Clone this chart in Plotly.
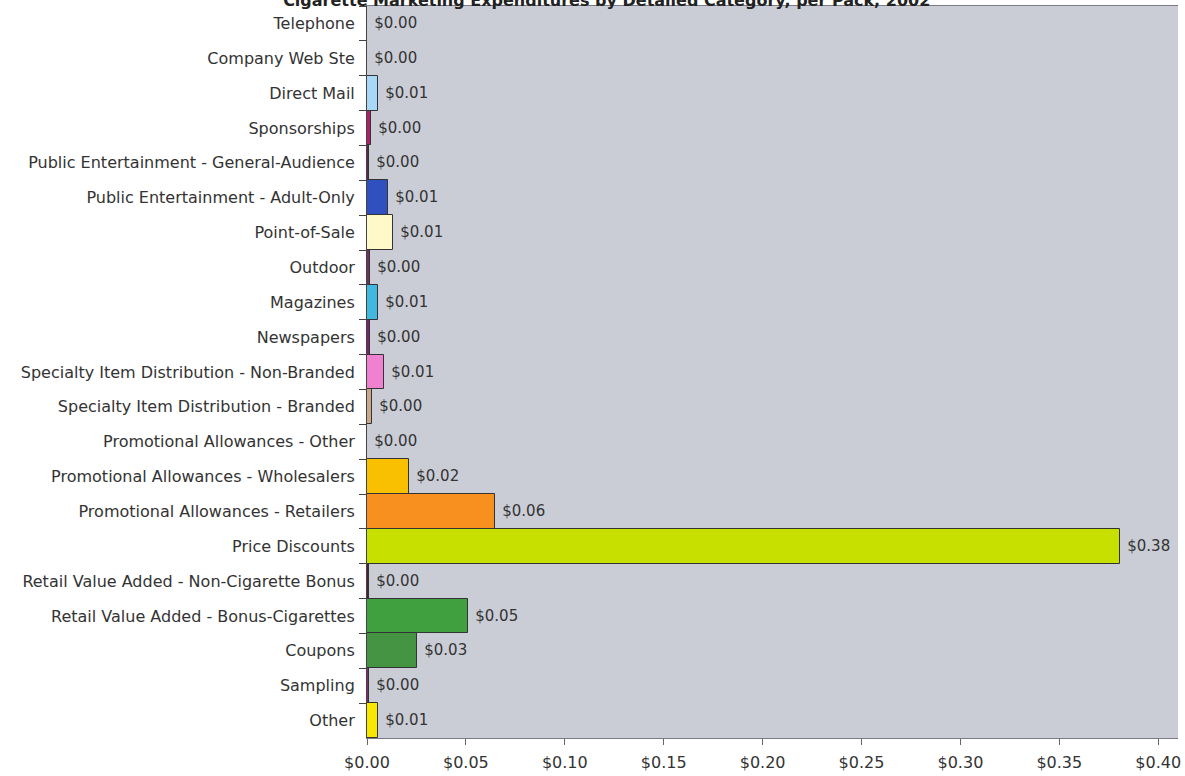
import plotly.graph_objects as go

categories = [
    "Telephone", "Company Web Ste", "Direct Mail", "Sponsorships",
    "Public Entertainment - General-Audience", "Public Entertainment - Adult-Only",
    "Point-of-Sale", "Outdoor", "Magazines", "Newspapers",
    "Specialty Item Distribution - Non-Branded", "Specialty Item Distribution - Branded",
    "Promotional Allowances - Other", "Promotional Allowances - Wholesalers",
    "Promotional Allowances - Retailers", "Price Discounts",
    "Retail Value Added - Non-Cigarette Bonus", "Retail Value Added - Bonus-Cigarettes",
    "Coupons", "Sampling", "Other",
]
values = [
    0.0, 0.0, 0.0058, 0.0022,
    0.0012, 0.0106,
    0.0132, 0.0015, 0.0055, 0.0015,
    0.0088, 0.0025,
    0.0, 0.0212,
    0.0646, 0.3805,
    0.0012, 0.0512,
    0.0252, 0.0012, 0.0055,
]
colors = [
    "#c8ccd4", "#c8ccd4", "#a8d8f8", "#b0206a",
    "#6a2050", "#3050c0",
    "#fff8c8", "#703060", "#40b8e0", "#802070",
    "#f080d0", "#c8a888",
    "#c8ccd4", "#f8c000",
    "#f89020", "#c8e000",
    "#502030", "#40a040",
    "#449444", "#902070", "#f8e800",
]
x_ticks = [0.0, 0.05, 0.10, 0.15, 0.20, 0.25, 0.30, 0.35, 0.40]

title = "Cigarette Marketing Expenditures by Detailed Category, per Pack, 2002"
FONT = "DejaVu Sans, Verdana, sans-serif"

fig = go.Figure(go.Bar(
    y=categories, x=values, orientation="h",
    marker=dict(color=colors, line=dict(color="#333333", width=1)),
    texttemplate="\u00a0$%{x:.2f}", textposition="outside", cliponaxis=False,
    textfont=dict(family=FONT, size=15, color="#333333"),
))

fig.update_layout(
    width=1185, height=776,
    margin=dict(l=367, r=4, t=6, b=38),
    paper_bgcolor="white", plot_bgcolor="#cbcdd6",
    bargap=0.0,
    showlegend=False,
    font=dict(family=FONT, size=16, color="#333333"),
    title=dict(text="<b>" + title + "</b>", x=0.512, xanchor="center",
               y=1.0, yref="container", yanchor="middle",
               font=dict(family=FONT, size=16, color="#222222")),
)
fig.update_yaxes(
    autorange="reversed", ticks="outside", ticklen=7, tickson="boundaries",
    tickcolor="#444444", showline=True, linecolor="#444444", linewidth=1,
    mirror=False, showgrid=False, ticklabelstandoff=8,
    tickfont=dict(family=FONT, size=16, color="#333333"),
)
fig.update_xaxes(
    range=[0, 0.41], tickvals=x_ticks, tickformat="$.2f",
    ticks="outside", ticklen=6, tickcolor="#666666",
    showline=True, linecolor="#7a7a88", linewidth=1, mirror=True,
    showgrid=False, zeroline=False, ticklabelstandoff=4,
    tickfont=dict(family=FONT, size=16, color="#333333"),
)

fig.write_html("out.html")
